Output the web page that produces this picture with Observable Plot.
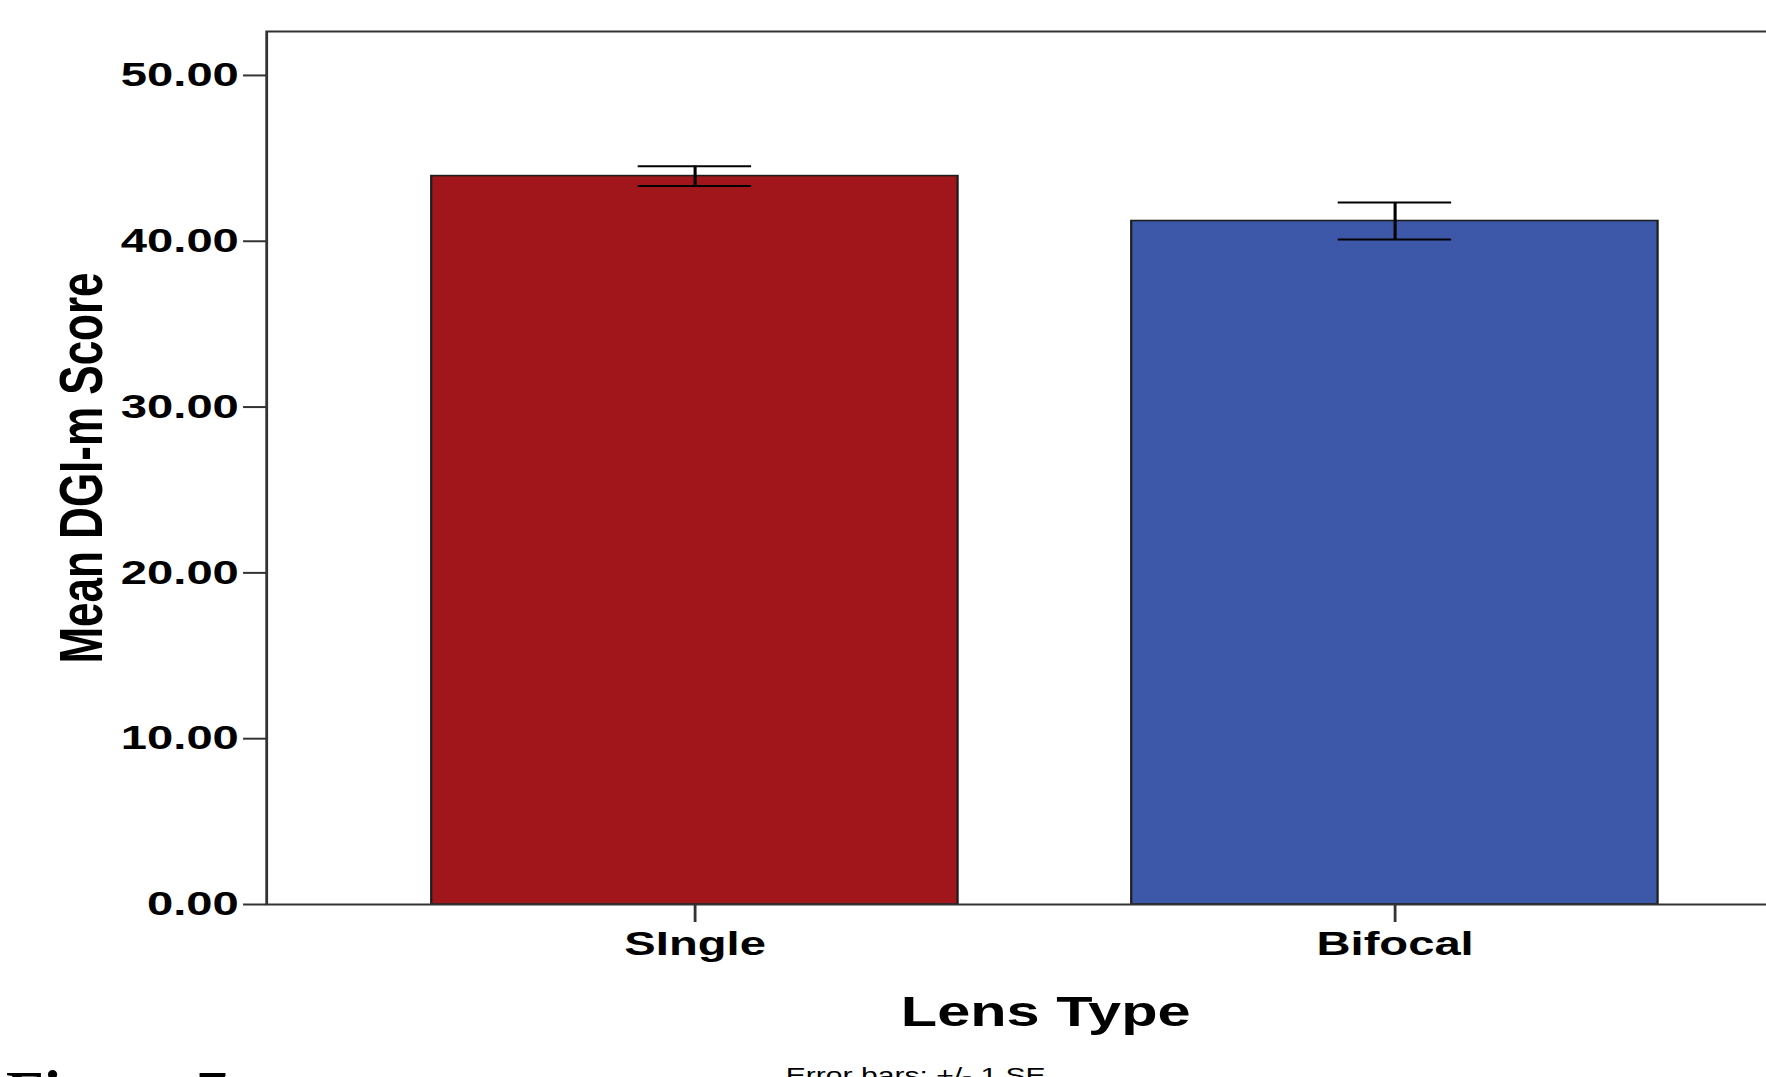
<!DOCTYPE html>
<html>
<head>
<meta charset="utf-8">
<script src="https://cdn.jsdelivr.net/npm/d3@7"></script>
<script src="https://cdn.jsdelivr.net/npm/@observablehq/plot@0.6"></script>
<style>
  html, body { margin: 0; padding: 0; background: white; overflow: hidden; }
  #wrap { position: relative; width: 1766px; height: 1077px; overflow: hidden; background: white; }
  #fig { position: absolute; left: 6px; top: 1061px; font-family: "Liberation Serif", "Times New Roman", serif; font-weight: bold; font-size: 62px; line-height: 1; white-space: pre; }
</style>
</head>
<body>
<div id="wrap"><div id="fig">Figure 7</div></div>
<script>
// ---- data ----
const lensTypes = ["SIngle", "Bifocal"];
const meanScores = [43.93, 41.22];
const standardErrors = [0.60, 1.12];
const barColors = ["#A0161B", "#3D58A9"];
const yTicks = [0, 10, 20, 30, 40, 50];
const yMax = 52.65;

const data = lensTypes.map((t, i) => ({type: t, mean: meanScores[i], se: standardErrors[i]}));

// The original chart is horizontally stretched; draw narrower then stretch the SVG.
const S = 1.4;
const W = 1766 / S;
const H = 1077;
const bandPxScreen = 527, capPxScreen = 114;
const capInset = (bandPxScreen - capPxScreen) / 2 / S;

const chart = Plot.plot({
  width: W,
  height: H,
  marginLeft: 266 / S,
  marginRight: (1766 - 1824) / S,
  marginTop: 31,
  marginBottom: 173,
  style: {fontFamily: "'Liberation Sans', Arial, sans-serif", fontWeight: "bold", background: "white", color: "black"},
  x: {domain: lensTypes, paddingInner: 0.248, paddingOuter: 0.2354, label: null},
  y: {domain: [0, yMax], label: null},
  color: {domain: lensTypes, range: barColors},
  marks: [
    Plot.barY(data, {x: "type", y: "mean", fill: "type", stroke: "#1e1e1e", strokeWidth: 1.6}),
    Plot.ruleX(data, {x: "type", y1: d => d.mean - d.se, y2: d => d.mean + d.se, stroke: "black", strokeWidth: 2.2}),
    Plot.tickY(data, {x: "type", y: d => d.mean + d.se, insetLeft: capInset, insetRight: capInset, stroke: "black", strokeWidth: 2}),
    Plot.tickY(data, {x: "type", y: d => d.mean - d.se, insetLeft: capInset, insetRight: capInset, stroke: "black", strokeWidth: 2}),
    Plot.frame({stroke: "#333", strokeWidth: 2}),
    Plot.axisY({ticks: yTicks, tickFormat: d3.format(".2f"), tickSize: 16.4, tickPadding: 3.5, fontSize: 33.7, stroke: "#333", strokeWidth: 2, label: null}),
    Plot.axisX({tickSize: 18, tickPadding: 9, fontSize: 33.7, stroke: "#333", strokeWidth: 2, label: null}),
    Plot.text(["Lens Type"], {text: d => d, frameAnchor: "bottom", lineAnchor: "bottom", dy: 121, fontSize: 42.5, fontWeight: "bold"}),
    Plot.text(["Mean DGI-m Score"], {text: d => d, frameAnchor: "left", textAnchor: "middle", rotate: -90, lineAnchor: "bottom", dx: 72.1 - 266 / S, fontSize: 44, fontWeight: "bold"}),
    Plot.text(["Error bars: +/- 1 SE"], {text: d => d, frameAnchor: "bottom", lineAnchor: "bottom", dy: 1082 - 904, dx: 915 / S - (266 + 1824) / 2 / S, fontSize: 21.5, fontWeight: "normal"})
  ]
});

chart.setAttribute("width", 1766);
chart.setAttribute("height", H);
chart.setAttribute("preserveAspectRatio", "none");
chart.style.width = "1766px";
chart.style.height = H + "px";
chart.style.maxWidth = "none";
chart.style.overflow = "hidden";
chart.style.display = "block";
const wrap = document.getElementById("wrap");
wrap.insertBefore(chart, wrap.firstChild);
</script>
</body>
</html>
